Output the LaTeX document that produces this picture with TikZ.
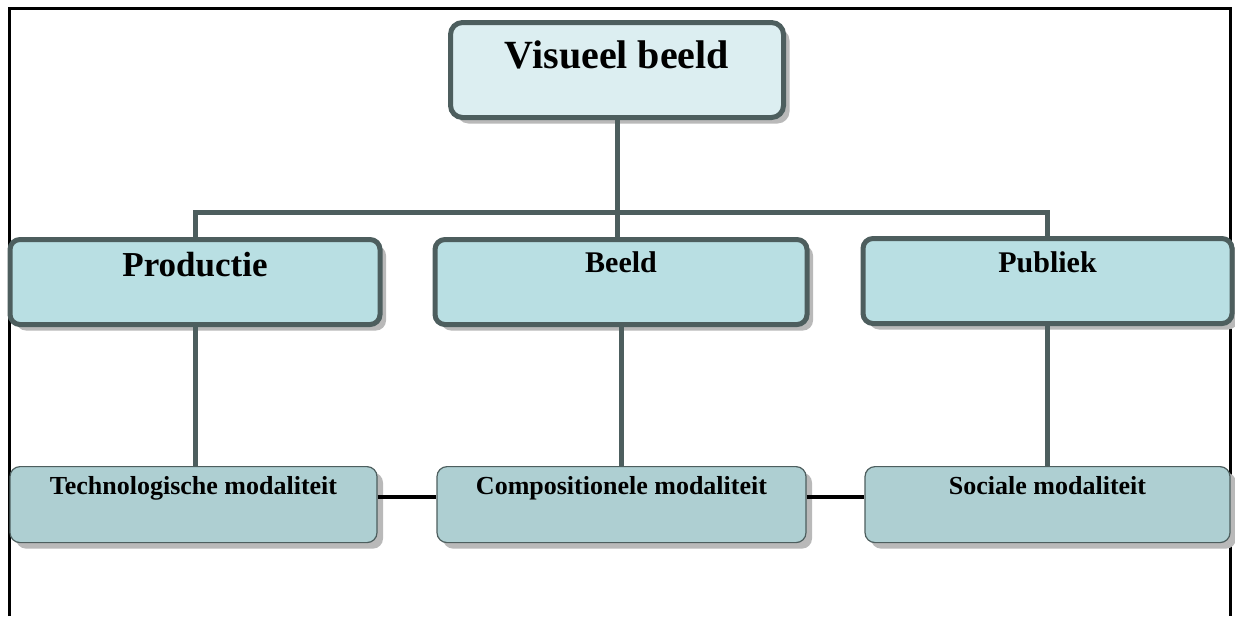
\documentclass[tikz,border=0pt]{standalone}
\usepackage{fontspec}
\setmainfont{Liberation Serif}
\usetikzlibrary{shadows}
\definecolor{rimgray}{HTML}{4D5E5E}
\definecolor{topfill}{HTML}{DCEEF1}
\definecolor{midfill}{HTML}{B9DFE3}
\definecolor{lowfill}{HTML}{AECFD2}
\tikzset{
  shade box/.style={drop shadow={shadow xshift=3pt,shadow yshift=-3pt,fill=gray!55,opacity=1}},
  headbox/.style={shade box,draw=rimgray,line width=2.5pt,rounded corners=6pt,
    fill=topfill,inner sep=0pt,anchor=north,font=\bfseries\fontsize{20}{24}\selectfont},
  midbox/.style={shade box,draw=rimgray,line width=2.5pt,rounded corners=5pt,
    fill=midfill,inner sep=0pt,anchor=north},
  lowbox/.style={shade box,draw=rimgray,line width=0.6pt,rounded corners=5pt,
    fill=lowfill,inner sep=0pt,anchor=north,text height=14pt,text depth=24pt,
    font=\bfseries\fontsize{13}{15}\selectfont},
  conn/.style={draw=rimgray,line width=2.5pt},
  link/.style={draw=black,line width=2pt}
}
\begin{document}
\begin{tikzpicture}[x=0.5pt,y=-0.5pt]
\useasboundingbox (0,0) rectangle (1235,616);
% frame, open at the bottom
\draw[line width=1.5pt] (9,616) -- (9,8) -- (1230,8) -- (1230,616);

% top
\node[headbox,minimum width=166.5pt,text height=23pt,text depth=24.5pt]
  (vb) at (617,20) {Visueel beeld};

% middle row
\node[midbox,minimum width=185pt,text height=18.5pt,text depth=24pt,
  font=\bfseries\fontsize{17.5}{20}\selectfont] (prod) at (195,237) {Productie};
\node[midbox,minimum width=186pt,text height=16.5pt,text depth=26pt,
  font=\bfseries\fontsize{15}{18}\selectfont] (beeld) at (621,237) {Beeld};
\node[midbox,minimum width=184.5pt,text height=17pt,text depth=25.5pt,
  font=\bfseries\fontsize{15}{18}\selectfont] (pub) at (1047.5,236) {Publiek};

% bottom row
\node[lowbox,minimum width=183.5pt] (tech) at (193.5,466) {Technologische modaliteit};
\node[lowbox,minimum width=184.5pt] (comp) at (621.5,466) {Compositionele modaliteit};
\node[lowbox,minimum width=182.5pt] (soc) at (1047.5,466) {Sociale modaliteit};

% tree
\coordinate (bus) at (0,212);
\draw[conn] (vb.south) -- (vb.south|-beeld.north);
\draw[conn] (prod.north) -- (prod.north|-bus) -- (pub.north|-bus) -- (pub.north);
\draw[conn] (prod.south) -- (prod.south|-tech.north);
\draw[conn] (beeld.south) -- (beeld.south|-comp.north);
\draw[conn] (pub.south) -- (pub.south|-soc.north);

% links between the modalities
\draw[link] (tech.east|-0,497) -- (comp.west|-0,497);
\draw[link] (comp.east|-0,497) -- (soc.west|-0,497);

\end{tikzpicture}
\end{document}
